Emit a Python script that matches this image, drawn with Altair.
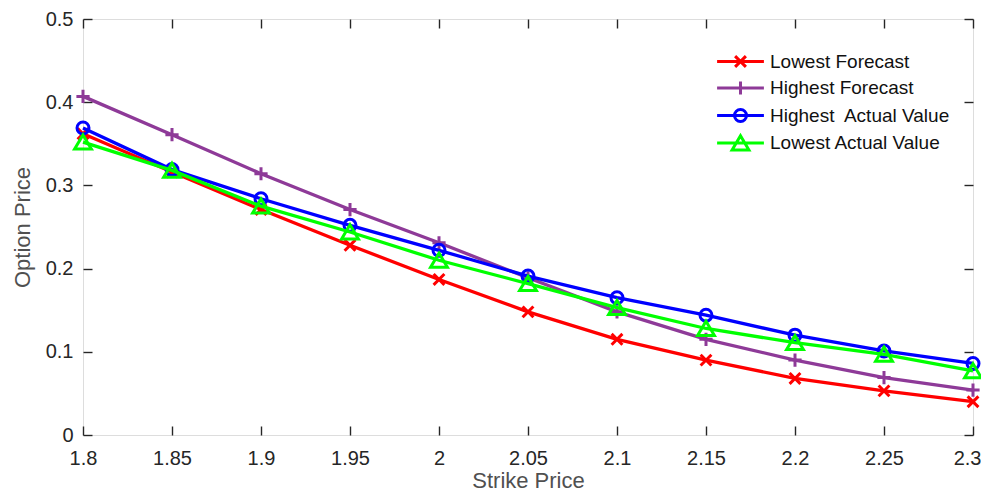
import altair as alt
import pandas as pd

# ---- data ----
strikes = [1.8, 1.85, 1.9, 1.95, 2.0, 2.05, 2.1, 2.15, 2.2, 2.25, 2.3]
series_names = ["Lowest Forecast", "Highest Forecast",
                "Highest\u00a0 Actual Value", "Lowest Actual Value"]
lowest_forecast = [0.362, 0.316, 0.271, 0.228, 0.187, 0.148, 0.115, 0.090, 0.068, 0.053, 0.040]
highest_forecast = [0.407, 0.361, 0.314, 0.271, 0.231, 0.189, 0.148, 0.115, 0.090, 0.069, 0.054]
highest_actual = [0.369, 0.319, 0.284, 0.252, 0.222, 0.191, 0.165, 0.144, 0.120, 0.101, 0.086]
lowest_actual = [0.352, 0.318, 0.275, 0.244, 0.210, 0.182, 0.153, 0.128, 0.111, 0.097, 0.077]
y_ticks = [0, 0.1, 0.2, 0.3, 0.4, 0.5]

colors = ["#FF0000", "#8E3A98", "#0000FF", "#00FF00"]
marker_paths = [
    "M-0.9,-0.9L0.9,0.9M-0.9,0.9L0.9,-0.9",
    "M-1.1,0L1.1,0M0,-1.1L0,1.1",
    "M1,0A1,1,0,1,1,-1,0A1,1,0,1,1,1,0Z",
    "M0,-1.2L1.4,1.15L-1.4,1.15Z",
]
legend_paths = ["M-3.9,0L3.9,0" + p for p in marker_paths]

df = pd.DataFrame({
    "strike": strikes * 4,
    "price": lowest_forecast + highest_forecast + highest_actual + lowest_actual,
    "series": [n for n in series_names for _ in strikes],
})

FONT = "Liberation Sans"
AX = "#262626"
W, H = 890, 416

x_scale = alt.Scale(domain=[1.8, 2.3], nice=False, zero=False)
y_scale = alt.Scale(domain=[0, 0.5], nice=False, zero=False)
color_scale = alt.Scale(domain=series_names, range=colors)

# main labelled axes (no ticks)
x_main = alt.Axis(orient="bottom", values=strikes, format="~g", ticks=False, tickSize=0,
                  domain=False, grid=False, labelFontSize=20, labelColor=AX, labelPadding=13,
                  labelFlush=False, labelOverlap=False,
                  labelAlign=alt.ExprRef("datum.value > 2.29 ? 'right' : 'center'"),
                  labelOffset=alt.ExprRef("datum.value > 2.29 ? 8 : 0"),
                  title="Strike Price", titleFontSize=22, titleFontWeight="normal",
                  titleColor="#505050", titlePadding=2, labelFont=FONT, titleFont=FONT)
y_main = alt.Axis(orient="left", values=y_ticks, format="~g", ticks=False, tickSize=0,
                  domain=False, grid=False, labelFontSize=20, labelColor=AX, labelPadding=10,
                  labelFlush=False, labelOverlap=False,
                  title="Option Price", titleFontSize=22, titleFontWeight="normal",
                  titleColor="#505050", titlePadding=11, labelFont=FONT, titleFont=FONT)
# inward ticks at bottom / left
x_in_bottom = alt.Axis(orient="top", offset=-H, values=strikes, labels=False, domain=False,
                       grid=False, ticks=True, tickSize=9, tickColor=AX, tickWidth=1.4, title=None)
y_in_left = alt.Axis(orient="right", offset=-W, values=y_ticks, labels=False, domain=False,
                     grid=False, ticks=True, tickSize=9, tickColor=AX, tickWidth=1.4, title=None)
# inward ticks at top / right
x_in_top = alt.Axis(orient="bottom", offset=-H, values=strikes, labels=False, domain=False,
                    grid=False, ticks=True, tickSize=9, tickColor=AX, tickWidth=1.4, title=None)
y_in_right = alt.Axis(orient="left", offset=-W, values=y_ticks, labels=False, domain=False,
                      grid=False, ticks=True, tickSize=9, tickColor=AX, tickWidth=1.4, title=None)

axes_for = {0: (x_main, y_main), 1: (x_in_bottom, y_in_left), 2: (x_in_top, y_in_right)}

base = alt.Chart(df)
layers = []
for i, name in enumerate(series_names):
    sub = base.transform_filter(alt.datum.series == name)
    xa, ya = axes_for.get(i, (None, None))
    line = sub.mark_line(strokeWidth=3.3, color=colors[i]).encode(
        x=alt.X("strike:Q", scale=x_scale, axis=xa),
        y=alt.Y("price:Q", scale=y_scale, axis=ya),
    )
    pts = sub.mark_point(filled=False, strokeWidth=3, size=144, opacity=1,
                         shape=marker_paths[i], color=colors[i]).encode(
        x=alt.X("strike:Q", scale=x_scale, axis=None),
        y=alt.Y("price:Q", scale=y_scale, axis=None),
    )
    layers += [line, pts]

legend = alt.Legend(orient="none", legendX=648, legendY=33, title=None,
                    labelFontSize=19, labelFont=FONT, labelColor="#111111", labelLimit=0,
                    symbolSize=144, symbolStrokeWidth=3, labelOffset=20,
                    rowPadding=1.5, padding=0, symbolOpacity=1)
legend_layer = base.transform_filter("false").mark_point(
    filled=False, strokeWidth=3, size=144, opacity=1).encode(
    color=alt.Color("series:N", scale=color_scale, legend=legend),
    shape=alt.Shape("series:N", scale=alt.Scale(domain=series_names, range=legend_paths),
                    legend=legend),
)
layers.append(legend_layer)

chart = alt.layer(*layers).resolve_axis(x="independent", y="independent").properties(
    width=W, height=H,
    padding={"left": 75, "top": 11, "right": 8, "bottom": 57},
    autosize=alt.AutoSizeParams(type="none"),
).configure_view(stroke=AX, strokeWidth=2).configure(background="white")

chart.save("out.html", embed_options={"renderer": "svg", "actions": False})
